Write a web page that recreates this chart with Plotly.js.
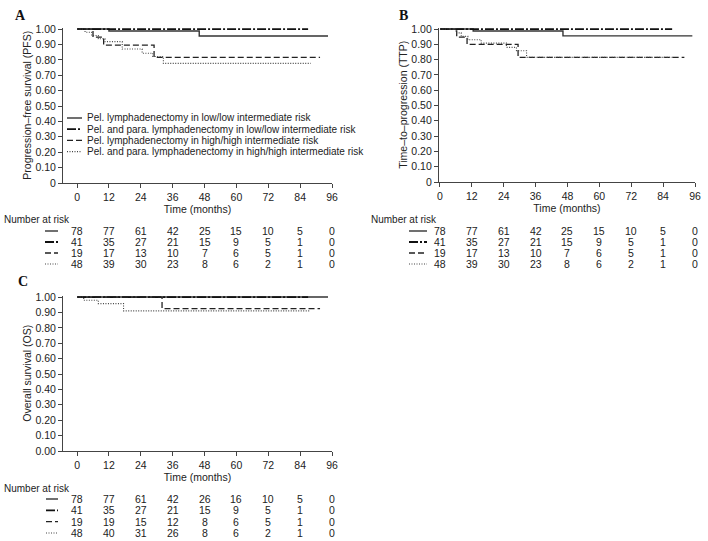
<!DOCTYPE html>
<html>
<head>
<meta charset="utf-8">
<script src="https://cdn.plot.ly/plotly-3.0.1.min.js"></script>
<style>html,body{margin:0;padding:0;background:#fff;}#chart{width:708px;height:541px;}</style>
</head>
<body>
<div id="chart"></div>
<script>
// ---------- data ----------
const seriesNames = [
  "Pel. lymphadenectomy in low/low intermediate risk",
  "Pel. and para. lymphadenectomy in low/low intermediate risk",
  "Pel. lymphadenectomy in high/high intermediate risk",
  "Pel. and para. lymphadenectomy in high/high intermediate risk"
];
const timeTicks = [0, 12, 24, 36, 48, 60, 72, 84, 96];
const survTicks = [0, 0.1, 0.2, 0.3, 0.4, 0.5, 0.6, 0.7, 0.8, 0.9, 1.0];
const survTickTextAB = ["0", "0.10", "0.20", "0.30", "0.40", "0.50", "0.60", "0.70", "0.80", "0.90", "1.00"];
const survTickTextC = ["0.00", "0.10", "0.20", "0.30", "0.40", "0.50", "0.60", "0.70", "0.80", "0.90", "1.00"];

// Panel A: progression-free survival (step times, survival)
const pfsLowPelT = [0, 12, 46, 94.5];
const pfsLowPelS = [1, 0.987, 0.955, 0.955];
const pfsLowParaT = [0, 87];
const pfsLowParaS = [1, 1];
const pfsHighPelT = [0, 6, 10, 29, 91.5];
const pfsHighPelS = [1, 0.947, 0.895, 0.816, 0.816];
const pfsHighParaT = [0, 3, 5.5, 8, 10.5, 17, 24.5, 28.5, 32.5, 88];
const pfsHighParaS = [1, 0.979, 0.958, 0.937, 0.918, 0.87, 0.843, 0.822, 0.777, 0.777];

// Panel B: time-to-progression
const ttpLowPelT = [0, 12.5, 46.3, 95];
const ttpLowPelS = [1, 0.987, 0.955, 0.955];
const ttpLowParaT = [0, 87.4];
const ttpLowParaS = [1, 1];
const ttpHighPelT = [0, 6.3, 10.2, 29.4, 92];
const ttpHighPelS = [1, 0.947, 0.9, 0.815, 0.815];
const ttpHighParaT = [0, 6, 8, 10.5, 15.5, 25, 28.8, 32.6, 88];
const ttpHighParaS = [1, 0.975, 0.952, 0.93, 0.908, 0.88, 0.858, 0.815, 0.815];

// Panel C: overall survival
const osLowPelT = [0, 94.5];
const osLowPelS = [1, 1];
const osLowParaT = [0, 87];
const osLowParaS = [1, 1];
const osHighPelT = [0, 32, 91.5];
const osHighPelS = [1, 0.925, 0.925];
const osHighParaT = [0, 2.5, 8, 17.5, 87.7];
const osHighParaS = [1, 0.979, 0.957, 0.91, 0.91];

// Number at risk
const riskA = [
  [78, 77, 61, 42, 25, 15, 10, 5, 0],
  [41, 35, 27, 21, 15, 9, 5, 1, 0],
  [19, 17, 13, 10, 7, 6, 5, 1, 0],
  [48, 39, 30, 23, 8, 6, 2, 1, 0]
];
const riskB = [
  [78, 77, 61, 42, 25, 15, 10, 5, 0],
  [41, 35, 27, 21, 15, 9, 5, 1, 0],
  [19, 17, 13, 10, 7, 6, 5, 1, 0],
  [48, 39, 30, 23, 8, 6, 2, 1, 0]
];
const riskC = [
  [78, 77, 61, 42, 26, 16, 10, 5, 0],
  [41, 35, 27, 21, 15, 9, 5, 1, 0],
  [19, 19, 15, 12, 8, 6, 5, 1, 0],
  [48, 40, 31, 26, 8, 6, 2, 1, 0]
];

// ---------- styling ----------
const W = 708, H = 541;
const px = x => x / W;
const py = y => 1 - y / H;
const FONT = "Liberation Sans, Arial, Helvetica, sans-serif";
const TXT = "#222";
const styles = [
  {color: "#333", width: 1.4, dash: "solid"},
  {color: "#111", width: 1.8, dash: "9px,2px,2px,2px"},
  {color: "#222", width: 1.3, dash: "6px,3px"},
  {color: "#444", width: 1.1, dash: "1px,1.5px"}
];

function mk(t, s, i, xa, ya) {
  return {
    x: t, y: s, type: "scatter", mode: "lines", name: seriesNames[i],
    line: {shape: "hv", color: styles[i].color, width: styles[i].width, dash: styles[i].dash},
    xaxis: xa, yaxis: ya, showlegend: false, hoverinfo: "skip"
  };
}

const data = [
  mk(pfsLowPelT, pfsLowPelS, 0, "x", "y"),
  mk(pfsLowParaT, pfsLowParaS, 1, "x", "y"),
  mk(pfsHighPelT, pfsHighPelS, 2, "x", "y"),
  mk(pfsHighParaT, pfsHighParaS, 3, "x", "y"),
  mk(ttpLowPelT, ttpLowPelS, 0, "x2", "y2"),
  mk(ttpLowParaT, ttpLowParaS, 1, "x2", "y2"),
  mk(ttpHighPelT, ttpHighPelS, 2, "x2", "y2"),
  mk(ttpHighParaT, ttpHighParaS, 3, "x2", "y2"),
  mk(osLowPelT, osLowPelS, 0, "x3", "y3"),
  mk(osLowParaT, osLowParaS, 1, "x3", "y3"),
  mk(osHighPelT, osHighPelS, 2, "x3", "y3"),
  mk(osHighParaT, osHighParaS, 3, "x3", "y3")
];

function xAxis(domain, range, anchor) {
  return {
    domain: domain, range: range, anchor: anchor,
    tickvals: timeTicks, ticktext: timeTicks.map(String),
    ticks: "outside", ticklen: 4, tickcolor: "#444", tickwidth: 1,
    showline: true, linecolor: "#444", linewidth: 1,
    showgrid: false, zeroline: false,
    tickfont: {family: FONT, size: 10.5, color: TXT},
    title: {text: "Time (months)", font: {family: FONT, size: 10.5, color: TXT}, standoff: 0}
  };
}
function yAxis(domain, anchor, ticktext, title) {
  return {
    domain: domain, range: [0, 1.01], anchor: anchor,
    tickvals: survTicks, ticktext: ticktext,
    ticks: "outside", ticklen: 4, tickcolor: "#444", tickwidth: 1,
    showline: true, linecolor: "#444", linewidth: 1,
    showgrid: false, zeroline: false,
    tickfont: {family: FONT, size: 10.5, color: TXT},
    title: {text: title, font: {family: FONT, size: 10.5, color: TXT}, standoff: 1}
  };
}

const annotations = [];
const shapes = [];

// panel letters
[["A", 20, 15], ["B", 403, 15], ["C", 23, 281]].forEach(([t, x, y]) => {
  annotations.push({text: "<b>" + t + "</b>", xref: "paper", yref: "paper", x: px(x), y: py(y),
    xanchor: "center", yanchor: "middle", showarrow: false,
    font: {family: "Liberation Serif, Times New Roman, serif", size: 14, color: "#111"}});
});

// legend in panel A (custom, compact)
const legendRows = [118, 129.2, 140.4, 151.6];
seriesNames.forEach((name, i) => {
  shapes.push({type: "line", xref: "paper", yref: "paper", x0: px(67), x1: px(82), y0: py(legendRows[i]), y1: py(legendRows[i]),
    line: {color: styles[i].color, width: styles[i].width, dash: styles[i].dash}});
  annotations.push({text: name, xref: "paper", yref: "paper", x: px(85), y: py(legendRows[i]),
    xanchor: "left", yanchor: "middle", showarrow: false, font: {family: FONT, size: 10, color: TXT}});
});

// number-at-risk tables
function riskTable(risk, xref, labelX, headerY, rowYs, sx0, sx1) {
  annotations.push({text: "Number at risk", xref: "paper", yref: "paper", x: px(labelX), y: py(headerY),
    xanchor: "left", yanchor: "middle", showarrow: false, font: {family: FONT, size: 10, color: TXT}});
  risk.forEach((row, i) => {
    shapes.push({type: "line", xref: "paper", yref: "paper", x0: px(sx0), x1: px(sx1), y0: py(rowYs[i]), y1: py(rowYs[i]),
      line: {color: styles[i].color, width: styles[i].width, dash: styles[i].dash}});
    row.forEach((v, j) => {
      annotations.push({text: String(v), xref: xref, yref: "paper", x: timeTicks[j], y: py(rowYs[i]),
        xanchor: "center", yanchor: "middle", showarrow: false, font: {family: FONT, size: 10.5, color: TXT}});
    });
  });
}
riskTable(riskA, "x", 2, 219, [231, 242, 253, 264], 45, 58);
riskTable(riskB, "x2", 369, 219, [231, 242, 253, 264], 409, 427);
riskTable(riskC, "x3", 2, 488, [499, 510.3, 521.6, 533], 46, 58);

const layout = {
  width: W, height: H, autosize: false,
  margin: {l: 0, r: 0, t: 0, b: 0},
  paper_bgcolor: "#fff", plot_bgcolor: "#fff",
  showlegend: false,
  xaxis: xAxis([px(63), px(332)], [-5.3, 96], "y"),
  yaxis: yAxis([py(183), py(27.5)], "x", survTickTextAB, "Progression\u2013free survival (PFS)"),
  xaxis2: xAxis([px(438.9), px(695)], [-0.4, 96], "y2"),
  yaxis2: yAxis([py(182), py(27.5)], "x2", survTickTextAB, "Time\u2013to\u2013progression (TTP)"),
  xaxis3: xAxis([px(63), px(332)], [-5.3, 96], "y3"),
  yaxis3: yAxis([py(451), py(295.5)], "x3", survTickTextC, "Overall survival (OS)"),
  annotations: annotations,
  shapes: shapes
};

Plotly.newPlot("chart", data, layout, {displayModeBar: false, staticPlot: true});
</script>
</body>
</html>
